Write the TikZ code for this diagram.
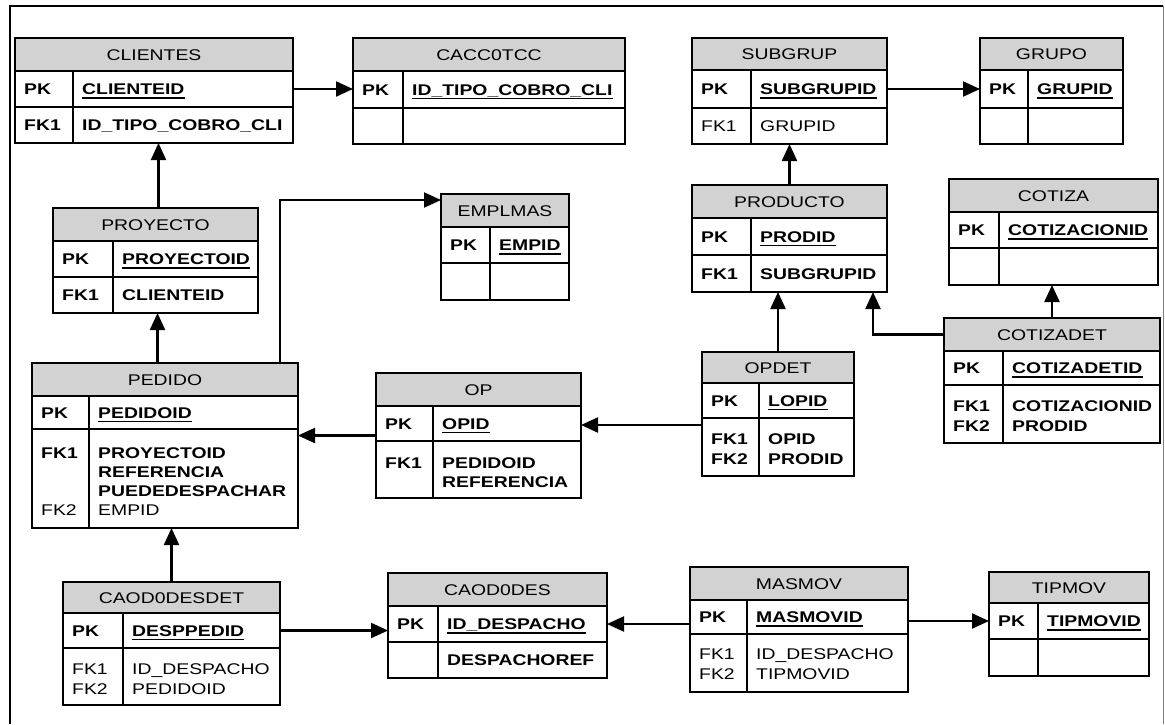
\documentclass[tikz,border=0pt]{standalone}
\usepackage{fontspec}
\setmainfont{Liberation Sans}[FakeStretch=1.25]
\usetikzlibrary{arrows.meta,calc}

\newcommand\erfont{\fontsize{15.5}{19}\selectfont}

\tikzset{
  hdr/.style={fill=gray!35, draw=none, inner sep=0pt, outer sep=0pt},
  cell/.style={draw=none, inner sep=0pt, outer sep=0pt},
  tblbox/.style={draw, line width=1.6pt, inner sep=0pt, outer sep=0pt},
  rowrule/.style={line width=1.6pt},
  ttl/.style={inner sep=0pt, anchor=base, font=\erfont},
  kb/.style={inner sep=0pt, anchor=base west, font=\erfont\bfseries},
  kr/.style={inner sep=0pt, anchor=base west, font=\erfont},
  fb/.style={inner sep=0pt, anchor=base west, font=\erfont\bfseries},
  fr/.style={inner sep=0pt, anchor=base west, font=\erfont},
  uline/.style={line width=1.6pt},
  fk/.style={line width=2.2pt, -{Triangle[length=17pt,width=15pt]}},
  frame/.style={line width=1.8pt},
}

% #1 name, #2 left, #3 right, #4 column divider, #5 top,
% #6 header bottom, #7 first row bottom, #8 bottom, #9 title
\newcommand\ertable[9]{%
  \node[hdr, anchor=north west, minimum width={#3-#2}, minimum height={#6-#5}] (#1-h) at (#2,#5) {};
  \node[cell, anchor=north west, minimum width={#3-#2}, minimum height={#7-#6}] (#1-r1) at (#2,#6) {};
  \node[cell, anchor=north west, minimum width={#3-#2}, minimum height={#8-#7}] (#1-r2) at (#2,#7) {};
  \draw[rowrule] (#2,#6) -- (#3,#6) (#2,#7) -- (#3,#7) (#4,#6) -- (#4,#8);
  \node[tblbox, anchor=north west, minimum width={#3-#2}, minimum height={#8-#5}] (#1) at (#2,#5) {};
  \node[ttl] (#1-t) at ($(#1-h.center)+(0,5.5)$) {#9};
}

% primary key field: bold and underlined
\newcommand\pkfield[4]{%
  \node[fb] (#1) at (#2,#3) {#4};
  \draw[uline] ([yshift=-3.5pt]#1.base west) -- ([yshift=-3.5pt]#1.base east);
}

\begin{document}
\begin{tikzpicture}[x=1pt, y=-1pt]
\useasboundingbox (0,0) rectangle (1165,724);

% outer frame
\draw[frame] (10,724) -- (10,6) -- (1163,6);
\draw[gray, line width=1pt] (1163,6) -- (1163,724);

% ---- tables ----
\ertable{clientes}{15}{293}{73}{38}{71}{107}{143}{CLIENTES}
\node[kb] (clientes-k1) at (24,94.5) {PK};
\pkfield{clientes-f1}{82}{94.5}{CLIENTEID}
\node[kb] (clientes-k2) at (24,130.5) {FK1};
\node[fb] (clientes-f2) at (82,130.5) {ID\_TIPO\_COBRO\_CLI};

\ertable{cacc}{353}{625}{403}{38}{71}{108}{144}{CACC0TCC}
\node[kb] (cacc-k1) at (362,95) {PK};
\pkfield{cacc-f1}{412}{95}{ID\_TIPO\_COBRO\_CLI}

\ertable{subgrup}{692}{887}{751}{38}{70}{108}{144}{SUBGRUP}
\node[kb] (subgrup-k1) at (701,94.5) {PK};
\pkfield{subgrup-f1}{760}{94.5}{SUBGRUPID}
\node[kr] (subgrup-k2) at (701,131.5) {FK1};
\node[fr] (subgrup-f2) at (760,131.5) {GRUPID};

\ertable{grupo}{980}{1123}{1028}{38}{70}{108}{144}{GRUPO}
\node[kb] (grupo-k1) at (989,94.5) {PK};
\pkfield{grupo-f1}{1037}{94.5}{GRUPID}

\ertable{proyecto}{53}{258}{113}{208}{241}{277}{313}{PROYECTO}
\node[kb] (proyecto-k1) at (62,264.5) {PK};
\pkfield{proyecto-f1}{122}{264.5}{PROYECTOID}
\node[kb] (proyecto-k2) at (62,300.5) {FK1};
\node[fb] (proyecto-f2) at (122,300.5) {CLIENTEID};

\ertable{emplmas}{441}{569}{490}{194}{227}{263}{300}{EMPLMAS}
\node[kb] (emplmas-k1) at (450,250.5) {PK};
\pkfield{emplmas-f1}{499}{250.5}{EMPID}

\ertable{producto}{692}{887}{751}{185}{218}{255}{292}{PRODUCTO}
\node[kb] (producto-k1) at (701,242) {PK};
\pkfield{producto-f1}{760}{242}{PRODID}
\node[kb] (producto-k2) at (701,279) {FK1};
\node[fb] (producto-f2) at (760,279) {SUBGRUPID};

\ertable{cotiza}{949}{1158}{999}{179}{212}{248}{285}{COTIZA}
\node[kb] (cotiza-k1) at (958,235.5) {PK};
\pkfield{cotiza-f1}{1008}{235.5}{COTIZACIONID}

\ertable{pedido}{32}{298}{89}{363}{396}{429}{528}{PEDIDO}
\node[kb] (pedido-k1) at (41,418) {PK};
\pkfield{pedido-f1}{98}{418}{PEDIDOID}
\node[kb] (pedido-k2) at (41,458) {FK1};
\node[fb] (pedido-f2) at (98,458) {PROYECTOID};
\node[fb] (pedido-f3) at (98,477) {REFERENCIA};
\node[fb] (pedido-f4) at (98,496) {PUEDEDESPACHAR};
\node[kr] (pedido-k5) at (41,515) {FK2};
\node[fr] (pedido-f5) at (98,515) {EMPID};

\ertable{op}{376}{581}{433}{373}{406}{441}{498}{OP}
\node[kb] (op-k1) at (385,429) {PK};
\pkfield{op-f1}{442}{429}{OPID}
\node[kb] (op-k2) at (385,468) {FK1};
\node[fb] (op-f2) at (442,468) {PEDIDOID};
\node[fb] (op-f3) at (442,487) {REFERENCIA};

\ertable{opdet}{702}{854}{759}{352}{383}{418}{476}{OPDET}
\node[kb] (opdet-k1) at (711,406) {PK};
\pkfield{opdet-f1}{768}{406}{LOPID}
\node[kb] (opdet-k2) at (711,444) {FK1};
\node[kb] (opdet-k3) at (711,464) {FK2};
\node[fb] (opdet-f2) at (768,444) {OPID};
\node[fb] (opdet-f3) at (768,464) {PRODID};

\ertable{cotizadet}{944}{1160}{1003}{318}{351}{385}{443}{COTIZADET}
\node[kb] (cotizadet-k1) at (953,373.5) {PK};
\pkfield{cotizadet-f1}{1012}{373.5}{COTIZADETID}
\node[kb] (cotizadet-k2) at (953,411) {FK1};
\node[kb] (cotizadet-k3) at (953,431) {FK2};
\node[fb] (cotizadet-f2) at (1012,411) {COTIZACIONID};
\node[fb] (cotizadet-f3) at (1012,431) {PRODID};

\ertable{caoddet}{63}{280}{123}{582}{613}{648}{705}{CAOD0DESDET}
\node[kb] (caoddet-k1) at (72,636) {PK};
\pkfield{caoddet-f1}{132}{636}{DESPPEDID}
\node[kr] (caoddet-k2) at (72,674) {FK1};
\node[kr] (caoddet-k3) at (72,694) {FK2};
\node[fr] (caoddet-f2) at (132,674) {ID\_DESPACHO};
\node[fr] (caoddet-f3) at (132,694) {PEDIDOID};

\ertable{caod}{388}{607}{438}{573}{606}{642}{678}{CAOD0DES}
\node[kb] (caod-k1) at (397,629.5) {PK};
\pkfield{caod-f1}{447}{629.5}{ID\_DESPACHO}
\node[fb] (caod-f2) at (447,665.5) {DESPACHOREF};

\ertable{masmov}{690}{908}{747}{567}{600}{634}{692}{MASMOV}
\node[kb] (masmov-k1) at (699,622.5) {PK};
\pkfield{masmov-f1}{756}{622.5}{MASMOVID}
\node[kr] (masmov-k2) at (699,659) {FK1};
\node[kr] (masmov-k3) at (699,679) {FK2};
\node[fr] (masmov-f2) at (756,659) {ID\_DESPACHO};
\node[fr] (masmov-f3) at (756,679) {TIPMOVID};

\ertable{tipmov}{989}{1149}{1038}{572}{603}{639}{676}{TIPMOV}
\node[kb] (tipmov-k1) at (998,626.5) {PK};
\pkfield{tipmov-f1}{1047}{626.5}{TIPMOVID}

% ---- relationships ----
\draw[fk] (clientes-r1.east) -- (clientes-r1.east -| cacc.west);
\draw[fk] (subgrup-r1.east) -- (subgrup-r1.east -| grupo.west);
\draw[fk] ([xshift=3pt]proyecto.north) -- ([xshift=3pt]proyecto.north |- clientes.south);
\draw[fk] ([xshift=2pt]proyecto.south |- pedido.north) -- ([xshift=2pt]proyecto.south);
\draw[fk] ([xshift=-18pt]pedido.north east) |- ([yshift=-6pt]emplmas.north west);
\draw[fk] (op.west) -- (op.west -| pedido.east);
\draw[fk] ([yshift=-7pt]opdet-r2.north west) -- ([yshift=-7pt]opdet-r2.north west -| op.east);
\draw[fk] (opdet.north) -- (opdet.north |- producto.south);
\draw[fk] (producto.north) -- (producto.north |- subgrup.south);
\draw[fk] (cotizadet-h.west) -| ([xshift=-14pt]producto.south east);
\draw[fk] (cotizadet.north) -- (cotizadet.north |- cotiza.south);
\draw[fk] (caoddet.north) -- (caoddet.north |- pedido.south);
\draw[fk] (caoddet-r1.east) -- (caoddet-r1.east -| caod.west);
\draw[fk] (caod-r1.east -| masmov.west) -- (caod-r1.east);
\draw[fk] (tipmov-r1.west -| masmov.east) -- (tipmov-r1.west);

\end{tikzpicture}
\end{document}
